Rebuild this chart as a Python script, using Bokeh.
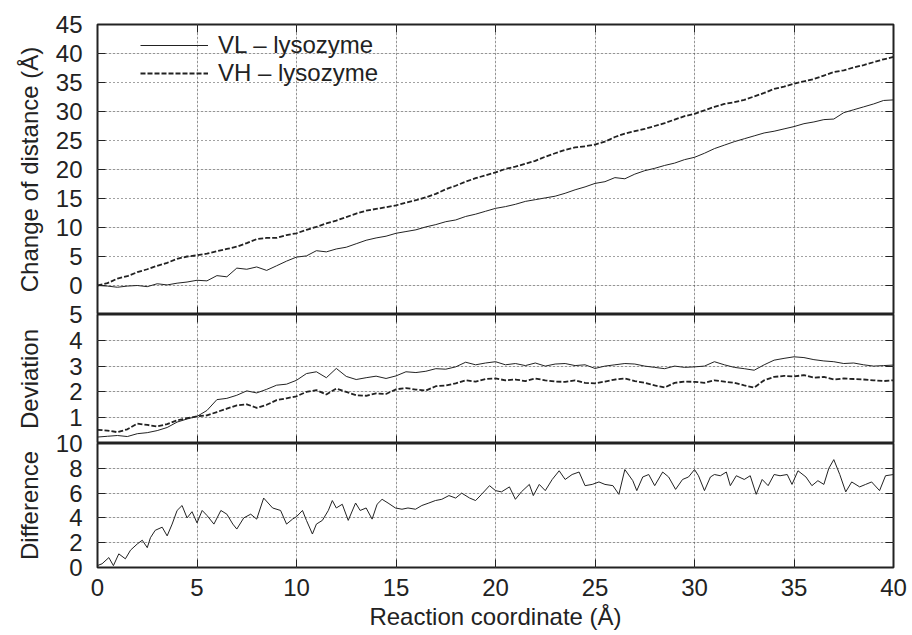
import numpy as np
from bokeh.plotting import figure
from bokeh.layouts import column
from bokeh.models import (Range1d, LinearAxis, FixedTicker, CustomJSTickFormatter,
                          Legend, LegendItem, Grid)
from bokeh.embed import file_html
from bokeh.resources import INLINE

FONT = "Liberation Sans"
INK = "#222222"

# ---------------- data ----------------
x_grid = np.arange(0, 40.01, 0.5)

vl_change = [0.0, -0.1, -0.3, -0.1, 0.0, -0.2, 0.3, 0.1, 0.4, 0.6,
             0.9, 0.8, 1.7, 1.5, 3.0, 2.8, 3.2, 2.6, 3.4, 4.2,
             4.9, 5.1, 6.0, 5.8, 6.3, 6.6, 7.2, 7.8, 8.2, 8.5,
             9.0, 9.3, 9.6, 10.1, 10.5, 11.0, 11.3, 11.9, 12.3, 12.8,
             13.3, 13.6, 14.0, 14.5, 14.8, 15.1, 15.4, 15.9, 16.5, 17.0,
             17.6, 17.9, 18.6, 18.4, 19.2, 19.8, 20.2, 20.7, 21.1, 21.7,
             22.1, 22.8, 23.6, 24.2, 24.8, 25.3, 25.8, 26.3, 26.6, 27.0,
             27.4, 27.9, 28.2, 28.6, 28.7, 29.8, 30.3, 30.8, 31.3, 31.9,
             32.0]

vh_change = [0.0, 0.4, 1.2, 1.6, 2.3, 2.8, 3.4, 3.9, 4.6, 5.0,
             5.2, 5.5, 5.9, 6.3, 6.7, 7.3, 8.0, 8.2, 8.2, 8.7,
             9.0, 9.6, 10.1, 10.7, 11.2, 11.8, 12.4, 12.9, 13.2, 13.5,
             13.8, 14.3, 14.7, 15.2, 15.8, 16.6, 17.2, 17.9, 18.5, 19.0,
             19.5, 20.1, 20.5, 21.0, 21.5, 22.2, 22.8, 23.4, 23.8, 24.0,
             24.3, 24.8, 25.6, 26.2, 26.6, 27.0, 27.5, 28.0, 28.6, 29.2,
             29.6, 30.2, 30.8, 31.3, 31.6, 32.0, 32.6, 33.2, 33.9, 34.3,
             34.8, 35.2, 35.6, 36.2, 36.8, 37.1, 37.6, 38.0, 38.5, 39.0,
             39.4]

vl_dev = [0.25, 0.28, 0.31, 0.27, 0.38, 0.42, 0.50, 0.62, 0.83, 0.95,
          1.05, 1.28, 1.70, 1.75, 1.87, 2.04, 1.96, 2.10, 2.26, 2.30,
          2.45, 2.71, 2.78, 2.55, 2.91, 2.60, 2.48, 2.55, 2.61, 2.52,
          2.62, 2.78, 2.75, 2.80, 2.90, 2.88, 2.97, 3.15, 3.05, 3.12,
          3.17, 3.05, 3.10, 3.02, 3.12, 3.00, 3.08, 3.10, 3.02, 3.05,
          2.91, 3.00, 3.05, 3.10, 3.08, 3.00, 2.95, 2.90, 3.00, 2.95,
          2.97, 3.00, 3.17, 3.05, 2.95, 2.90, 2.84, 3.05, 3.23, 3.30,
          3.36, 3.33, 3.25, 3.20, 3.17, 3.10, 3.12, 3.05, 3.00, 3.02,
          3.04]

vh_dev = [0.53, 0.50, 0.44, 0.55, 0.77, 0.72, 0.66, 0.75, 0.90, 0.98,
          1.05, 1.09, 1.22, 1.35, 1.48, 1.52, 1.38, 1.50, 1.68, 1.75,
          1.83, 2.00, 2.07, 1.90, 2.13, 2.00, 1.87, 1.85, 1.94, 1.92,
          2.10, 2.15, 2.09, 2.05, 2.22, 2.25, 2.33, 2.45, 2.40, 2.50,
          2.52, 2.45, 2.48, 2.42, 2.52, 2.45, 2.40, 2.39, 2.45, 2.35,
          2.33, 2.40, 2.48, 2.52, 2.42, 2.35, 2.25, 2.17, 2.35, 2.40,
          2.39, 2.35, 2.45, 2.40, 2.35, 2.25, 2.17, 2.45, 2.58, 2.62,
          2.60, 2.65, 2.55, 2.58, 2.48, 2.52, 2.50, 2.48, 2.45, 2.42,
          2.45]

diff_x = [0.0, 0.23, 0.57, 0.8, 1.07, 1.4, 1.66, 2.0, 2.25, 2.5,
          2.66, 2.9, 3.25, 3.5, 3.75, 4.0, 4.25, 4.5, 4.75, 5.0,
          5.26, 5.5, 5.85, 6.2, 6.5, 6.8, 7.0, 7.35, 7.7, 8.0,
          8.35, 8.8, 9.2, 9.5, 9.8, 10.0, 10.3, 10.5, 10.8, 11.0,
          11.3, 11.6, 11.8, 12.0, 12.3, 12.6, 12.97, 13.2, 13.5, 13.8,
          14.05, 14.3, 14.6, 14.97, 15.3, 15.6, 15.98, 16.3, 16.65, 16.98,
          17.3, 17.66, 18.0, 18.3, 18.7, 19.0, 19.3, 19.7, 20.0, 20.3,
          20.7, 21.0, 21.3, 21.7, 21.9, 22.2, 22.5, 22.85, 23.2, 23.5,
          23.85, 24.2, 24.5, 24.86, 25.2, 25.5, 25.9, 26.2, 26.5, 26.9,
          27.1, 27.4, 27.7, 28.0, 28.4, 28.7, 29.05, 29.4, 29.7, 30.0,
          30.2, 30.5, 30.8, 31.0, 31.3, 31.6, 31.8, 32.1, 32.5, 32.8,
          33.1, 33.4, 33.7, 34.0, 34.3, 34.66, 34.9, 35.2, 35.6, 35.9,
          36.2, 36.5, 36.75, 37.0, 37.3, 37.6, 37.9, 38.3, 38.6, 38.9,
          39.3, 39.6, 40.0]
diff_y = [0.16, 0.3, 0.8, 0.15, 1.1, 0.7, 1.4, 1.9, 2.2, 1.6,
          2.4, 3.0, 3.25, 2.55, 3.5, 4.6, 5.0, 4.0, 4.5, 3.6,
          4.6, 4.2, 3.5, 4.6, 4.3, 3.5, 3.1, 4.0, 4.3, 3.9,
          5.6, 4.8, 4.6, 3.5, 3.9, 4.1, 4.6, 3.8, 2.7, 3.5,
          3.8, 4.6, 5.4, 4.8, 5.1, 3.8, 5.2, 4.6, 4.8, 3.9,
          5.1, 5.5, 5.2, 4.8, 4.7, 4.8, 4.7, 5.0, 5.2, 5.4,
          5.5, 5.8, 5.6, 6.0, 5.6, 5.4, 5.9, 6.6, 6.2, 6.1,
          6.5, 5.5, 6.1, 6.7, 5.8, 6.7, 6.2, 7.1, 7.8, 7.1,
          7.5, 7.7, 6.6, 6.7, 6.9, 6.7, 6.6, 5.9, 7.9, 7.0,
          6.2, 7.3, 7.5, 6.6, 7.7, 7.3, 6.3, 7.1, 7.3, 7.9,
          7.4, 6.2, 7.3, 7.5, 7.4, 7.7, 6.6, 7.4, 7.1, 7.4,
          5.9, 7.1, 6.6, 7.5, 7.4, 7.5, 6.7, 7.8, 7.3, 6.6,
          7.0, 6.7, 8.0, 8.7, 7.5, 6.1, 6.9, 6.5, 6.7, 6.9,
          6.2, 7.4, 7.5]

x_ticks = [0, 5, 10, 15, 20, 25, 30, 35, 40]
top_ticks = [0, 5, 10, 15, 20, 25, 30, 35, 40, 45]
mid_ticks = [1, 2, 3, 4, 5]
bot_ticks = [0, 2, 4, 6, 8, 10]

legend_labels = ["VL \u2013 lysozyme", "VH \u2013 lysozyme"]
x_label = "Reaction coordinate (\u00c5)"
y_labels = ["Change of distance (\u00c5)", "Deviation", "Difference"]

# ---------------- helpers ----------------
OVER = 14  # overlap so boundary labels are not clipped
LEFT = 97
RIGHT = 15
WIDTH = LEFT + 796 + RIGHT


def tick_style(ax):
    ax.major_tick_in = 8
    ax.major_tick_out = 0
    ax.minor_tick_in = 0
    ax.minor_tick_out = 0
    ax.major_tick_line_color = INK
    ax.major_tick_line_width = 1
    ax.axis_line_color = None


def blank_axis(ticks):
    ax = LinearAxis(ticker=FixedTicker(ticks=ticks),
                    formatter=CustomJSTickFormatter(code="return ''"),
                    major_label_text_font_size="0px", major_label_standoff=0)
    tick_style(ax)
    return ax


def make_panel(height, yr, yticks, ylabel, label_standoff, border_top, border_bottom,
               bottom_labeled):
    p = figure(width=WIDTH, height=height, x_range=Range1d(0, 40), y_range=Range1d(*yr),
               output_backend="svg", toolbar_location=None,
               x_axis_location=None, y_axis_location=None,
               min_border_left=LEFT, min_border_right=RIGHT,
               min_border_top=border_top, min_border_bottom=border_bottom)
    p.border_fill_color = None
    p.background_fill_color = "white"
    p.outline_line_color = INK
    p.outline_line_width = 2

    left = LinearAxis(ticker=FixedTicker(ticks=yticks), axis_label=ylabel)
    tick_style(left)
    left.major_label_text_font = FONT
    left.major_label_text_font_size = "24px"
    left.major_label_text_color = INK
    left.major_label_standoff = 15
    left.axis_label_text_font = FONT
    left.axis_label_text_font_size = "24px"
    left.axis_label_text_font_style = "normal"
    left.axis_label_text_color = INK
    left.axis_label_standoff = label_standoff
    p.add_layout(left, "left")
    p.add_layout(blank_axis(yticks), "right")
    p.add_layout(blank_axis(x_ticks), "above")

    if bottom_labeled:
        below = LinearAxis(ticker=FixedTicker(ticks=x_ticks), axis_label=x_label)
        tick_style(below)
        below.major_label_text_font = FONT
        below.major_label_text_font_size = "24px"
        below.major_label_text_color = INK
        below.major_label_standoff = 11
        below.axis_label_text_font = FONT
        below.axis_label_text_font_size = "24px"
        below.axis_label_text_font_style = "normal"
        below.axis_label_text_color = INK
        below.axis_label_standoff = 4
        p.add_layout(below, "below")
    else:
        p.add_layout(blank_axis(x_ticks), "below")

    for dim, tk in ((0, x_ticks), (1, yticks)):
        g = Grid(dimension=dim, ticker=FixedTicker(ticks=tk),
                 grid_line_color="#444444", grid_line_dash="1 3", grid_line_width=1)
        p.add_layout(g)
    return p


# ---------------- panels ----------------
p1 = make_panel(24 + 290, (-5, 45), top_ticks, y_labels[0], 10, 24, 0, False)
r1 = p1.line(x_grid, vl_change, line_color=INK, line_width=1)
r2 = p1.line(x_grid, vh_change, line_color=INK, line_width=1.8, line_dash="5 2")
leg = Legend(items=[LegendItem(label=legend_labels[0], renderers=[r1]),
                    LegendItem(label=legend_labels[1], renderers=[r2])],
             location=(43, 227), orientation="vertical",
             label_text_font=FONT, label_text_font_size="24px", label_text_color=INK,
             glyph_width=68, glyph_height=24, label_height=24, label_standoff=10,
             spacing=0, padding=0, margin=0,
             border_line_color=None, background_fill_alpha=0)
p1.add_layout(leg)

p2 = make_panel(129 + OVER, (0, 5), mid_ticks, y_labels[1], 23, OVER, 0, False)
p2.line(x_grid, vl_dev, line_color=INK, line_width=1)
p2.line(x_grid, vh_dev, line_color=INK, line_width=1.8, line_dash="5 2")
p2.styles = {"margin-top": f"-{OVER}px"}

p3 = make_panel(124 + 68 + OVER, (0, 10), bot_ticks, y_labels[2], 10, OVER, 68, True)
p3.line(diff_x, diff_y, line_color=INK, line_width=1)
p3.styles = {"margin-top": f"-{OVER}px"}

layout = column(p1, p2, p3)

open("out.html", "w").write(file_html(layout, INLINE))
